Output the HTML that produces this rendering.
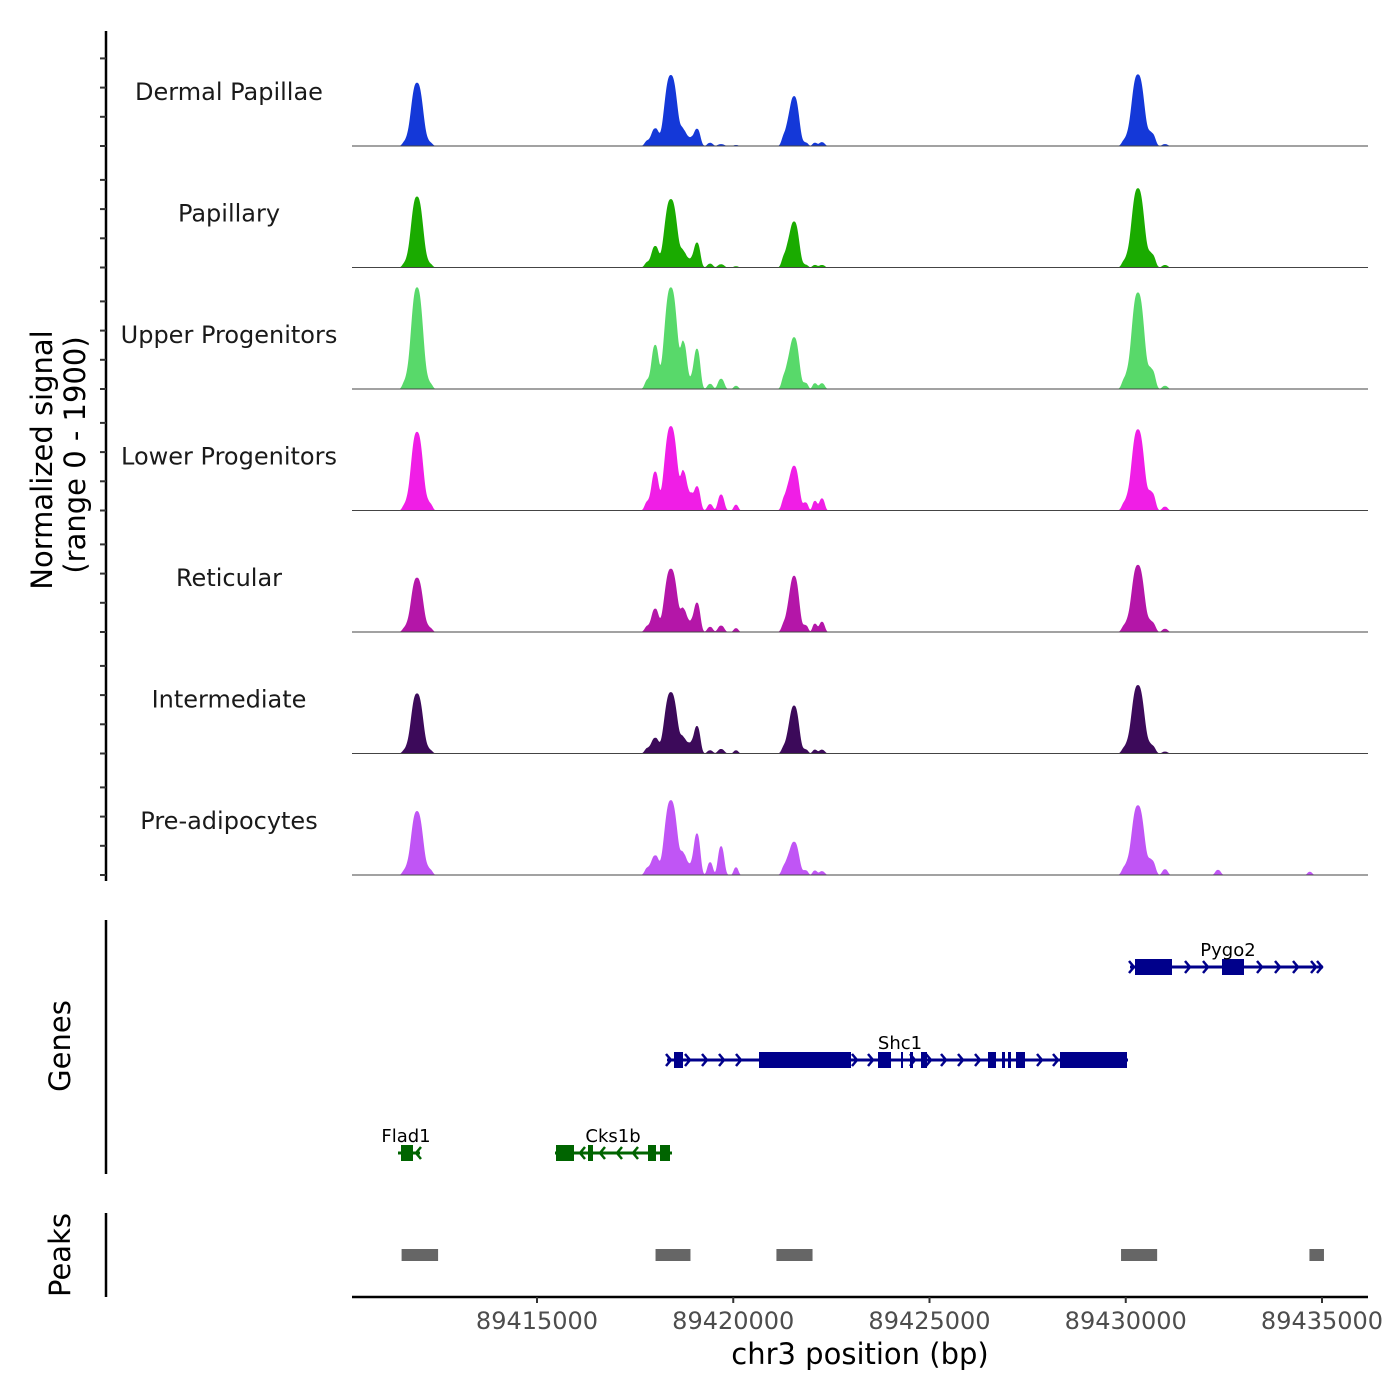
<!DOCTYPE html>
<html><head><meta charset="utf-8">
<style>
html,body{margin:0;padding:0;background:#fff;}
svg{display:block;font-family:"DejaVu Sans","Liberation Sans",sans-serif;}
</style></head>
<body>
<svg id="chart" width="1400" height="1400" viewBox="0 0 1400 1400" xmlns="http://www.w3.org/2000/svg">
  <rect width="1400" height="1400" fill="#fff"/>
  <g id="tracks"></g>
  <g id="genes"></g>
  <g id="peaks"></g>
  <g id="axes"></g>
  <text transform="translate(52,460) rotate(-90)" text-anchor="middle" font-size="29" fill="#000">Normalized signal</text>
  <text transform="translate(85,455) rotate(-90)" text-anchor="middle" font-size="29" fill="#000">(range 0 - 1900)</text>
  <text transform="translate(70,1046) rotate(-90)" text-anchor="middle" font-size="29" fill="#000">Genes</text>
  <text transform="translate(70,1255) rotate(-90)" text-anchor="middle" font-size="29" fill="#000">Peaks</text>
  <text x="860" y="1364" text-anchor="middle" font-size="29" fill="#000">chr3 position (bp)</text>
</svg>
<script>
const trackNames = ["Dermal Papillae","Papillary","Upper Progenitors","Lower Progenitors","Reticular","Intermediate","Pre-adipocytes"];
const trackColors = ["#1438d8","#1aab00","#58d96a","#f01ee6","#b416a8","#3c0a5a","#c055f5"];
const peakPositions = [89411640,89411943,89412270,89417830,89418010,89418410,89418745,89418900,89419075,89419410,89419690,89420070,89421320,89421550,89421850,89422080,89422260,89429980,89430310,89430670,89431000,89432350,89434690];
const peakWidths = [70,150,70,80,85,160,75,60,85,70,80,60,80,125,60,60,70,80,160,85,70,70,60];
const dermalValues = [60,990,50,90,270,1110,220,120,270,50,30,15,180,780,50,50,60,90,1120,190,30,0,0];
const papillaryValues = [60,1110,50,90,330,1070,220,120,390,60,50,20,190,720,40,40,40,100,1240,200,40,0,0];
const upperValues = [100,1590,80,150,680,1590,680,150,630,80,160,50,220,810,90,90,90,150,1510,290,50,0,0];
const lowerValues = [80,1230,100,150,600,1320,570,250,380,100,250,90,210,700,120,150,190,120,1270,270,60,0,0];
const reticularValues = [60,850,60,100,360,990,330,150,460,80,100,60,150,880,100,130,160,100,1050,150,50,0,0];
const intermediateValues = [50,940,50,90,240,960,220,150,430,50,70,50,120,750,60,60,60,90,1070,120,30,0,0];
const preadipValues = [70,1000,80,120,300,1170,300,150,650,200,450,120,150,520,70,70,60,120,1090,220,90,80,50];
const xTicks = [89415000,89420000,89425000,89430000,89435000];
const genePeaks = [[89411550,89412480],[89418020,89418910],[89421100,89422020],[89429880,89430800],[89434680,89435050]];

const NS="http://www.w3.org/2000/svg";
function mk(tag,attrs,parent){const e=document.createElementNS(NS,tag);for(const k in attrs)e.setAttribute(k,attrs[k]);parent.appendChild(e);return e;}
const X0=352,X1=1368;
function xs(bp){return 537+(bp-89415000)*0.03925;}
const trackH=121.5, base0=146, yMax=1900;
function ys(v,t){return base0+t*trackH - v/yMax*trackH;}
const allVals=[dermalValues,papillaryValues,upperValues,lowerValues,reticularValues,intermediateValues,preadipValues];

const tg=document.getElementById('tracks');
allVals.forEach((vals,t)=>{
  const g=mk('g',{},tg);
  
  
  let d='M'+X0+','+ys(0,t);
  for(let px=X0;px<=X1;px+=0.5){
    const bp=89415000+(px-537)/0.03925;
    let v=0;
    for(let i=0;i<peakPositions.length;i++){const z=(bp-peakPositions[i])/peakWidths[i];v+=vals[i]*Math.exp(-0.5*Math.pow(Math.abs(z),2.6));}
    d+=' L'+px+','+ys(v,t).toFixed(2);
  }
  d+=' L'+X1+','+ys(0,t)+' Z';
  const p=mk('path',{d:d,fill:trackColors[t]},g);
  
  
  const l=mk('line',{x1:X0,x2:X1,y1:ys(0,t),y2:ys(0,t),stroke:'#444','stroke-width':1},g);
  
  
  const tx=mk('text',{x:229,y:ys(0,t)-46,'text-anchor':'middle','font-size':24,fill:'#1a1a1a'},g);
  tx.textContent=trackNames[t];
  
  
});

const ax=document.getElementById('axes');
mk('line',{x1:106,x2:106,y1:31,y2:881,stroke:'#000','stroke-width':2.5},ax);
for(let t=0;t<7;t++){for(let k=0;k<4;k++){const y=ys(0,t)-k*29.2;mk('line',{x1:100,x2:106,y1:y,y2:y,stroke:'#333','stroke-width':2},ax);}}
mk('line',{x1:106,x2:106,y1:920,y2:1174,stroke:'#000','stroke-width':2.5},ax);
mk('line',{x1:106,x2:106,y1:1213,y2:1297,stroke:'#000','stroke-width':2.5},ax);
mk('line',{x1:352,x2:1368,y1:1297,y2:1297,stroke:'#000','stroke-width':2.5},ax);
xTicks.forEach(v=>{
  const x=xs(v);
  mk('line',{x1:x,x2:x,y1:1297,y2:1303,stroke:'#333','stroke-width':2},ax);
  const tx=mk('text',{x:x,y:1329,'text-anchor':'middle','font-size':24,fill:'#4d4d4d'},ax);
  tx.textContent=v;
  
  
});

const pg=document.getElementById('peaks');
genePeaks.forEach(p=>{
  const r=mk('rect',{x:xs(p[0]),y:1249,width:xs(p[1])-xs(p[0]),height:12,fill:'#666'},pg);
  
  
});

const gg=document.getElementById('genes');
function gene(name,y,x1,x2,col,exons,arrows,dir,lx){
  const g=mk('g',{},gg);
  
  
  mk('line',{x1:x1,x2:x2,y1:y,y2:y,stroke:col,'stroke-width':3},g);
  exons.forEach(e=>mk('rect',{x:e[0],y:y-8,width:e[1]-e[0],height:16,fill:col},g));
  arrows.forEach(a=>{const s=dir*5;mk('polyline',{points:(a-s)+','+(y-6)+' '+a+','+y+' '+(a-s)+','+(y+6),fill:'none',stroke:col,'stroke-width':2.5},g);});
  const tx=mk('text',{x:lx,y:y-11,'text-anchor':'middle','font-size':18,fill:'#000'},g);
  tx.textContent=name;
  
  
}
gene('Pygo2',967,1130,1323,'#00008b',[[1135,1172],[1222,1244]],[1134,1190,1208,1262,1280,1298,1316,1322],1,1228);
gene('Shc1',1060,667,1128,'#00008b',[[674,683],[759,851],[878,891],[901,903],[910,913],[921,927],[988,996],[1002,1005],[1008,1011],[1016,1025],[1060,1127]],[671,690,707,724,741,857,873,915,931,946,963,980,1042,1058],1,900);
gene('Cks1b',1153,555,672,'#006400',[[556,574],[588,593],[648,656],[660,670]],[580,600,617,633],-1,613);
gene('Flad1',1153,398,420,'#006400',[[401,413]],[406,416],-1,406);
</script>
</body></html>
